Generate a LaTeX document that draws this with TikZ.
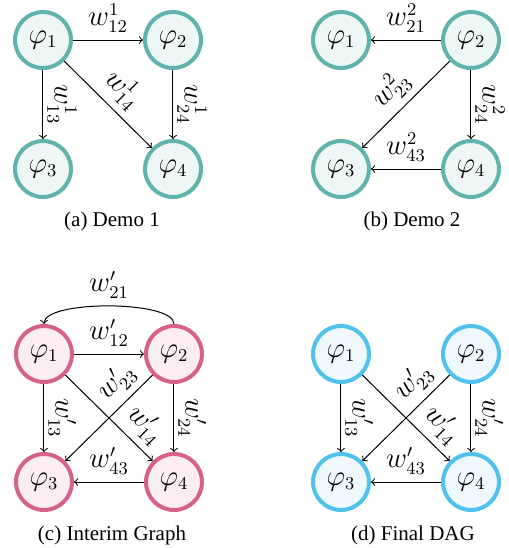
\documentclass[tikz,border=0pt]{standalone}
\usepackage{fontspec}
\setmainfont{Liberation Serif}
\definecolor{tealB}{HTML}{62B3AD}
\definecolor{tealF}{HTML}{EFF7F6}
\definecolor{pinkB}{HTML}{D6628C}
\definecolor{pinkF}{HTML}{FBEEF3}
\definecolor{blueB}{HTML}{4FC3EC}
\definecolor{blueF}{HTML}{EFF8FD}
\begin{document}
\begin{tikzpicture}[x=0.5pt,y=-0.5pt,
  font=\fontsize{13.5}{16}\selectfont,
  vtx/.style={circle, minimum size=28pt, inner sep=0pt, line width=2pt},
  tnode/.style={vtx, draw=tealB, fill=tealF},
  pnode/.style={vtx, draw=pinkB, fill=pinkF},
  bnode/.style={vtx, draw=blueB, fill=blueF},
  edge/.style={->, line width=0.5pt, black},
  vlab/.style={rotate=-90, anchor=south, inner sep=2pt},
  captext/.style={font=\fontsize{10.5}{12}\selectfont}
]
\useasboundingbox (0,0) rectangle (509,548);

% (a) Demo 1
\node[tnode] (a1) at (43,40) {$\varphi_1$};
\node[tnode] (a2) at (173,40) {$\varphi_2$};
\node[tnode] (a3) at (43,169) {$\varphi_3$};
\node[tnode] (a4) at (173,169) {$\varphi_4$};
\draw[edge] (a1) -- node[above] {$w^1_{12}$} (a2);
\draw[edge] (a1) -- node[vlab] {$w^1_{13}$} (a3);
\draw[edge] (a1) -- node[above, sloped] {$w^1_{14}$} (a4);
\draw[edge] (a2) -- node[vlab] {$w^1_{24}$} (a4);
\node[captext] (capa) at (112,221) {(a) Demo 1};

% (b) Demo 2
\node[tnode] (b1) at (341,40) {$\varphi_1$};
\node[tnode] (b2) at (471,40) {$\varphi_2$};
\node[tnode] (b3) at (341,169) {$\varphi_3$};
\node[tnode] (b4) at (471,169) {$\varphi_4$};
\draw[edge] (b2) -- node[above] {$w^2_{21}$} (b1);
\draw[edge] (b2) -- node[above, sloped] {$w^2_{23}$} (b3);
\draw[edge] (b2) -- node[vlab] {$w^2_{24}$} (b4);
\draw[edge] (b4) -- node[above] {$w^2_{43}$} (b3);
\node[captext] (capb) at (412,221) {(b) Demo 2};

% (c) Interim Graph
\node[pnode] (c1) at (44,354) {$\varphi_1$};
\node[pnode] (c2) at (174,354) {$\varphi_2$};
\node[pnode] (c3) at (44,482) {$\varphi_3$};
\node[pnode] (c4) at (174,482) {$\varphi_4$};
\draw[edge] (c2.north) .. controls ([yshift=12pt]c2.north) and ([yshift=12pt]c1.north) .. (c1.north) node[midway, above] {$w'_{21}$};
\draw[edge] (c1) -- node[above] {$w'_{12}$} (c2);
\draw[edge] (c1) -- node[vlab] {$w'_{13}$} (c3);
\draw[edge] (c1) -- node[pos=0.75, above, sloped] {$w'_{14}$} (c4);
\draw[edge] (c2) -- node[pos=0.25, above, sloped] {$w'_{23}$} (c3);
\draw[edge] (c2) -- node[vlab] {$w'_{24}$} (c4);
\draw[edge] (c4) -- node[above] {$w'_{43}$} (c3);
\node[captext] (capc) at (112,535) {(c) Interim Graph};

% (d) Final DAG
\node[bnode] (d1) at (341,354) {$\varphi_1$};
\node[bnode] (d2) at (471,354) {$\varphi_2$};
\node[bnode] (d3) at (341,482) {$\varphi_3$};
\node[bnode] (d4) at (471,482) {$\varphi_4$};
\draw[edge] (d1) -- node[vlab] {$w'_{13}$} (d3);
\draw[edge] (d1) -- node[pos=0.75, above, sloped] {$w'_{14}$} (d4);
\draw[edge] (d2) -- node[pos=0.25, above, sloped] {$w'_{23}$} (d3);
\draw[edge] (d2) -- node[vlab] {$w'_{24}$} (d4);
\draw[edge] (d4) -- node[above] {$w'_{43}$} (d3);
\node[captext] (capd) at (413,535) {(d) Final DAG};
\end{tikzpicture}
\end{document}
